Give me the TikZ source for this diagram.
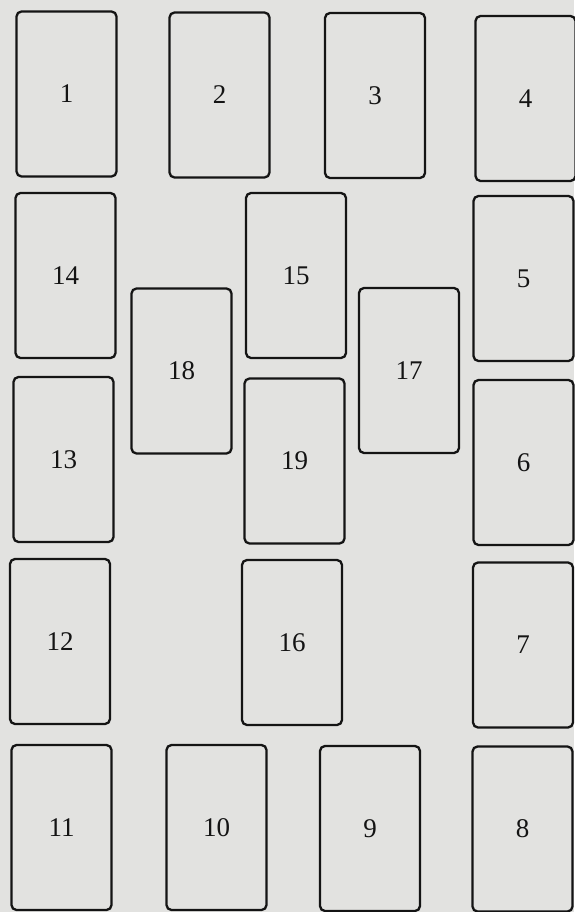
\documentclass[tikz,border=0pt]{standalone}
\usepackage{fontspec}
\setmainfont{Liberation Serif}
\definecolor{bgc}{RGB}{226,226,224}
\definecolor{edgec}{RGB}{20,20,20}
\begin{document}
\begin{tikzpicture}[x=1pt,y=-1pt,
  card/.style={draw=edgec, line width=2.3pt, rounded corners=5pt,
    minimum width=100pt, minimum height=165pt, inner sep=0pt,
    font=\fontsize{27}{32}\selectfont, text=edgec}]
\fill[bgc] (0,0) rectangle (574,912);
\useasboundingbox (0,0) rectangle (574,912);
\node[card] (c1)  at (66.5,94)    {1};
\node[card] (c2)  at (219.5,95)   {2};
\node[card] (c3)  at (375,95.5)   {3};
\node[card] (c4)  at (525.5,98.5) {4};
\node[card] (c14) at (65.5,275.5) {14};
\node[card] (c15) at (296,275.5)  {15};
\node[card] (c5)  at (523.5,278.5){5};
\node[card] (c18) at (181.5,371)  {18};
\node[card] (c17) at (409,370.5)  {17};
\node[card] (c13) at (63.5,459.5) {13};
\node[card] (c19) at (294.5,461)  {19};
\node[card] (c6)  at (523.5,462.5){6};
\node[card] (c12) at (60,641.5)   {12};
\node[card] (c16) at (292,642.5)  {16};
\node[card] (c7)  at (523,645)    {7};
\node[card] (c11) at (61.5,827.5) {11};
\node[card] (c10) at (216.5,827.5){10};
\node[card] (c9)  at (370,828.5)  {9};
\node[card] (c8)  at (522.5,829)  {8};
\end{tikzpicture}
\end{document}
